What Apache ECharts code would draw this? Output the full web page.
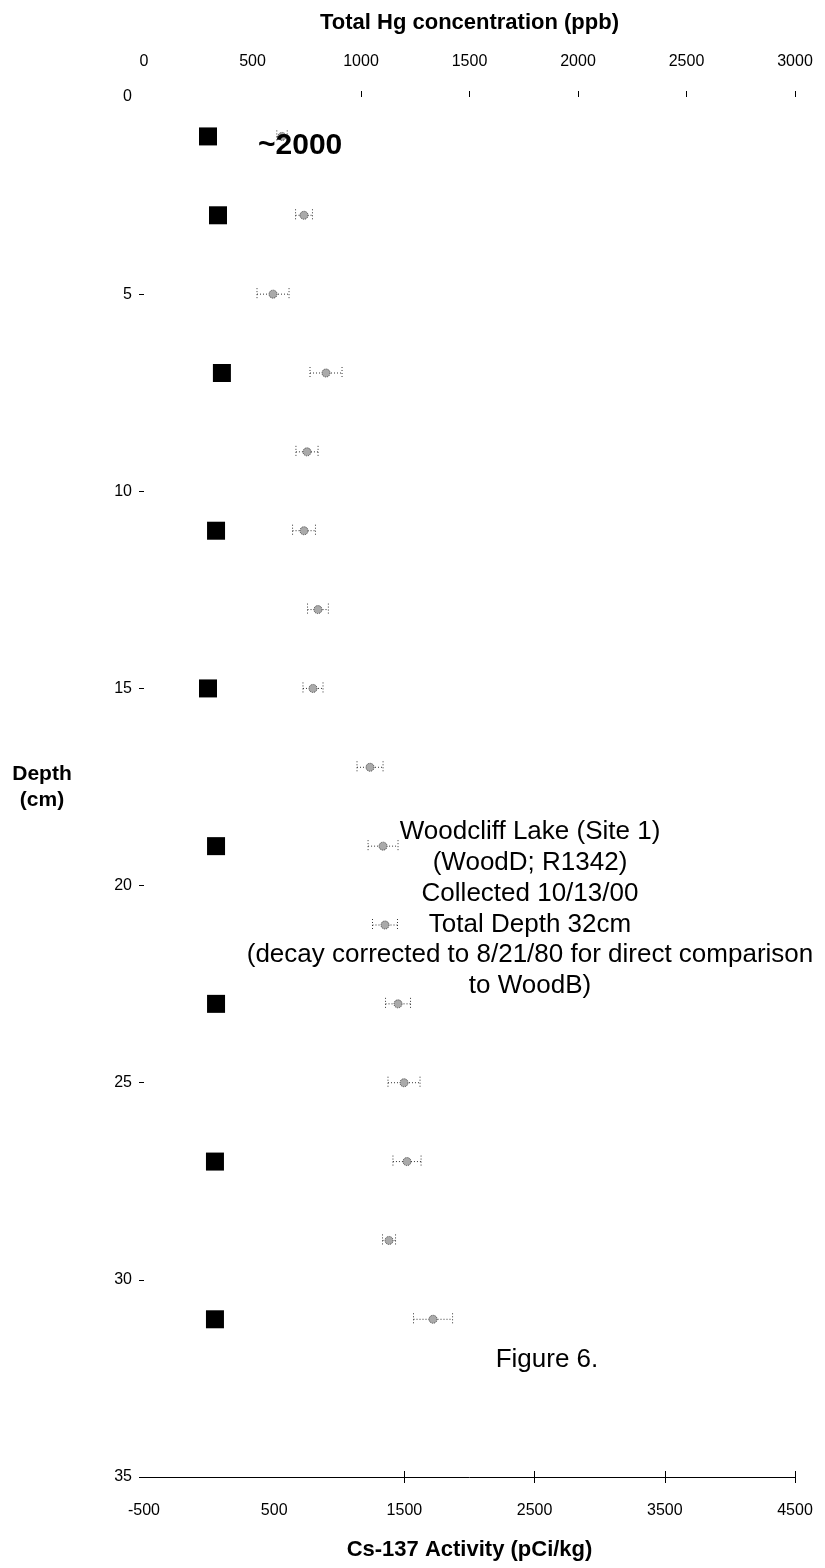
<!DOCTYPE html>
<html>
<head>
<meta charset="utf-8">
<script src="https://cdn.jsdelivr.net/npm/echarts@6/dist/echarts.min.js"></script>
<style>
html,body{margin:0;padding:0;background:#fff;}
#chart{width:825px;height:1568px;}
</style>
</head>
<body>
<div id="chart"></div>
<script>
// ---- data ----
const hgDepth = [1, 3, 7, 11, 15, 19, 23, 27, 31];
const hgValue = [295, 341, 359, 332, 295, 332, 332, 327, 327];

const csDepth = [1, 3, 5, 7, 9, 11, 13, 15, 17, 19, 21, 23, 25, 27, 29, 31];
const csValue = [560, 729, 491, 898, 752, 729, 836, 798, 1236, 1336, 1351, 1451, 1497, 1520, 1382, 1720];
const csError = [40, 65, 123, 123, 85, 88, 80, 77, 100, 115, 96, 96, 123, 108, 50, 150];

const depthAxis = { min: 0, max: 35, interval: 5 };
const hgAxis = { min: 0, max: 3000, interval: 500 };
const csAxis = { min: -500, max: 4500, interval: 1000 };

const noteLines = [
  'Woodcliff Lake (Site 1)',
  '(WoodD; R1342)',
  'Collected 10/13/00',
  'Total Depth 32cm',
  '(decay corrected to 8/21/80 for direct comparison',
  'to WoodB)'
];

// ---- chart ----
const FONT = '"Liberation Sans", Arial, sans-serif';
const chart = echarts.init(document.getElementById('chart'), null, { renderer: 'canvas' });

const G = { left: 144, right: 30, top: 97, bottom: 91 };
const plotW = 825 - G.left - G.right;
const plotH = 1568 - G.top - G.bottom;
const plain = v => String(v);

function renderCs(params, api) {
  const v = api.value(0), d = api.value(1), e = api.value(2);
  const c = api.coord([v, d]);
  const lo = api.coord([v - e, d]);
  const hi = api.coord([v + e, d]);
  const dot = { stroke: '#333', lineWidth: 1, lineDash: [1, 2] };
  return {
    type: 'group',
    children: [
      { type: 'line', shape: { x1: lo[0], y1: c[1], x2: hi[0], y2: c[1] }, style: dot },
      { type: 'line', shape: { x1: lo[0], y1: c[1] - 6, x2: lo[0], y2: c[1] + 6 }, style: dot },
      { type: 'line', shape: { x1: hi[0], y1: c[1] - 6, x2: hi[0], y2: c[1] + 6 }, style: dot },
      { type: 'circle', shape: { cx: c[0], cy: c[1], r: 4 }, style: { fill: '#aaa', stroke: '#444', lineWidth: 1, lineDash: [1, 1] } }
    ]
  };
}

const option = {
  backgroundColor: '#fff',
  animation: false,
  textStyle: { fontFamily: FONT },
  grid: [
    { left: G.left, right: G.right, top: G.top, bottom: G.bottom },
    // tick-only grids (reference shows ticks only on part of each axis)
    { left: G.left + plotW * (1000 - hgAxis.min) / (hgAxis.max - hgAxis.min), right: G.right, top: G.top, bottom: G.bottom },
    { left: G.left + plotW * (1500 - csAxis.min) / (csAxis.max - csAxis.min), right: G.right, top: G.top, bottom: G.bottom },
    { left: G.left, right: G.right, top: G.top + plotH * 5 / (depthAxis.max - depthAxis.min), bottom: G.bottom }
  ],
  xAxis: [
    {
      gridIndex: 0, type: 'value', position: 'bottom',
      min: csAxis.min, max: csAxis.max, interval: csAxis.interval,
      axisLine: { show: true, onZero: false, lineStyle: { color: '#000', width: 1 } },
      axisTick: { show: false }, splitLine: { show: false },
      axisLabel: { color: '#000', fontSize: 16, margin: 26, fontFamily: FONT, formatter: plain },
      name: 'Cs-137 Activity (pCi/kg)', nameLocation: 'middle', nameGap: 62,
      nameTextStyle: { color: '#000', fontSize: 22, fontWeight: 'bold', fontFamily: FONT }
    },
    {
      gridIndex: 0, type: 'value', position: 'top',
      min: hgAxis.min, max: hgAxis.max, interval: hgAxis.interval,
      axisLine: { show: false, onZero: false }, axisTick: { show: false }, splitLine: { show: false },
      axisLabel: { color: '#000', fontSize: 16, margin: 27, fontFamily: FONT, formatter: plain },
      name: 'Total Hg concentration (ppb)', nameLocation: 'middle', nameGap: 63,
      nameTextStyle: { color: '#000', fontSize: 22, fontWeight: 'bold', fontFamily: FONT }
    },
    {
      gridIndex: 1, type: 'value', position: 'top',
      min: 1000, max: hgAxis.max, interval: hgAxis.interval,
      axisLine: { show: false, onZero: false }, axisLabel: { show: false }, splitLine: { show: false },
      axisTick: { show: true, length: 6, lineStyle: { color: '#000' } }
    },
    {
      gridIndex: 2, type: 'value', position: 'bottom', offset: -6,
      min: 1500, max: csAxis.max, interval: csAxis.interval,
      axisLine: { show: false, onZero: false }, axisLabel: { show: false }, splitLine: { show: false },
      axisTick: { show: true, length: 12, lineStyle: { color: '#000' } }
    },
    { gridIndex: 3, type: 'value', show: false, min: csAxis.min, max: csAxis.max }
  ],
  yAxis: [
    {
      gridIndex: 0, type: 'value', inverse: true,
      min: depthAxis.min, max: depthAxis.max, interval: depthAxis.interval,
      axisLine: { show: false, onZero: false },
      axisTick: { show: false },
      splitLine: { show: false },
      axisLabel: { color: '#000', fontSize: 16, margin: 12, fontFamily: FONT }
    },
    { gridIndex: 1, type: 'value', show: false, inverse: true, min: depthAxis.min, max: depthAxis.max },
    { gridIndex: 2, type: 'value', show: false, inverse: true, min: depthAxis.min, max: depthAxis.max },
    {
      gridIndex: 3, type: 'value', inverse: true,
      min: 5, max: depthAxis.max, interval: depthAxis.interval,
      axisLine: { show: false, onZero: false }, axisLabel: { show: false }, splitLine: { show: false },
      axisTick: { show: true, length: 5, lineStyle: { color: '#000' } }
    }
  ],
  series: [
    {
      name: 'Cs-137', type: 'custom', xAxisIndex: 0, yAxisIndex: 0,
      renderItem: renderCs,
      data: csDepth.map((d, i) => [csValue[i], d, csError[i]]),
      z: 2
    },
    {
      name: 'Total Hg', type: 'scatter', xAxisIndex: 1, yAxisIndex: 0,
      symbol: 'rect', symbolSize: 18,
      itemStyle: { color: '#000', opacity: 1 },
      data: hgDepth.map((d, i) => [hgValue[i], d]),
      z: 3
    }
  ],
  graphic: [
    { type: 'text', left: 258, top: 131, z: 10,
      style: { text: '~2000', fontSize: 30, fontWeight: 'bold', fontFamily: FONT, fill: '#000' } },
    { type: 'text', x: 42, y: 774, z: 10,
      style: { text: 'Depth', fontSize: 21, fontWeight: 'bold', fontFamily: FONT, fill: '#000', textAlign: 'center', textVerticalAlign: 'middle' } },
    { type: 'text', x: 42, y: 800, z: 10,
      style: { text: '(cm)', fontSize: 21, fontWeight: 'bold', fontFamily: FONT, fill: '#000', textAlign: 'center', textVerticalAlign: 'middle' } },
    ...noteLines.map((t, i) => ({
      type: 'text', x: 530, y: 832 + i * 30.8, z: 10,
      style: { text: t, fontSize: 26, fontFamily: FONT, fill: '#000', textAlign: 'center', textVerticalAlign: 'middle' }
    })),
    { type: 'text', x: 547, y: 1360, z: 10,
      style: { text: 'Figure 6.', fontSize: 26, fontFamily: FONT, fill: '#000', textAlign: 'center', textVerticalAlign: 'middle' } }
  ]
};

chart.setOption(option);
</script>
</body>
</html>
